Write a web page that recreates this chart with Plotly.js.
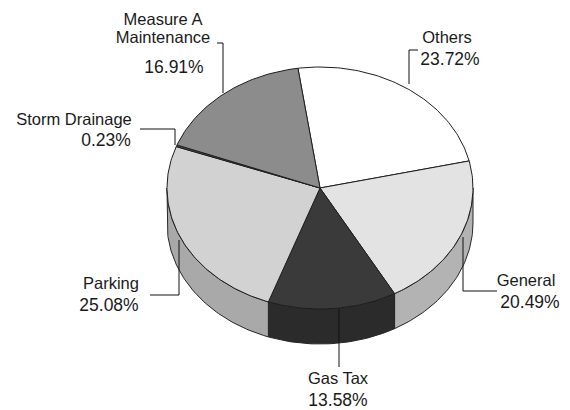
<!DOCTYPE html>
<html>
<head>
<meta charset="utf-8">
<script src="https://cdn.plot.ly/plotly-3.0.1.min.js"></script>
<style>html,body{margin:0;padding:0;background:#fff}#chart{width:570px;height:410px}</style>
</head>
<body>
<div id="chart"></div>
<script>
// Data, clockwise starting from the Others / Measure A boundary
const categories = ['Others', 'General', 'Gas Tax', 'Parking', 'Storm Drainage', 'Measure A Maintenance'];
const shares = [23.72, 20.49, 13.58, 25.08, 0.23, 16.91];
const topColors = ['#ffffff', '#e3e3e3', '#3a3a3a', '#d2d2d2', '#505050', '#8c8c8c'];
const sideColors = ['#b8b8b8', '#b3b3b3', '#2b2b2b', '#a9a9a9', '#3a3a3a', '#6a6a6a'];

// Label text lines and their anchors (axis units)
const labelLines = ['Measure A', 'Maintenance', '16.91%', 'Storm Drainage', '0.23%', 'Others', '23.72%', 'General', '20.49%', 'Gas Tax', '13.58%', 'Parking', '25.08%'];
const labelX = [163, 163, 174, 74, 106, 447, 450, 526, 530, 338, 338, 111, 109];
const labelY = [21, 39, 69, 121, 142, 39, 61, 282, 304, 380, 402, 285, 307];
const labelSize = [16.5, 16.5, 17.5, 16.5, 17.5, 16.5, 17.5, 16.5, 17.5, 16.5, 17.5, 16.5, 17.5];

// Leader lines (axis units); null separates them
const leaderX = [217, 223, 223, null, 140, 175, 175, null, 418, 409, 409, null, 497, 463, 463, null, 339, 339, null, 150, 179, 179];
const leaderY = [43, 43, 93, null, 129, 129, 145, null, 50, 50, 84, null, 291, 291, 237, null, 309, 367, null, 295, 295, 240];

// Pie geometry
const cx = 320, cy = 188, rx = 153, ry = 121, depth = 35, startDeg = -8.3;

const px = d => cx + rx * Math.sin(d * Math.PI / 180);
const py = d => cy - ry * Math.cos(d * Math.PI / 180);
const total = shares.reduce((a, b) => a + b, 0);

function arc(a, b) {
  const n = Math.max(2, Math.ceil(Math.abs(b - a)));
  const out = [];
  for (let i = 0; i <= n; i++) out.push(a + (b - a) * i / n);
  return out;
}

const traces = [];
const tops = [];
let cur = startDeg;
shares.forEach((v, i) => {
  const a = cur, b = cur + v / total * 360;
  cur = b;
  // side wall: the part of the slice on the front half of the rim
  const sa = Math.max(a, 90), sb = Math.min(b, 270);
  if (sb > sa) {
    const f = arc(sa, sb), r = f.slice().reverse();
    traces.push({
      type: 'scatter', mode: 'lines', fill: 'toself', fillcolor: sideColors[i],
      line: {color: '#262626', width: 1}, hoverinfo: 'skip', showlegend: false,
      x: f.map(px).concat(r.map(px), [px(sa)]),
      y: f.map(py).concat(r.map(d => py(d) + depth), [py(sa)])
    });
  }
  const t = arc(a, b);
  tops.push({
    type: 'scatter', mode: 'lines', fill: 'toself', fillcolor: topColors[i],
    line: {color: '#1e1e1e', width: 1}, name: categories[i], showlegend: false,
    text: categories[i] + ': ' + v.toFixed(2) + '%', hoverinfo: 'text',
    x: [cx].concat(t.map(px), [cx]),
    y: [cy].concat(t.map(py), [cy])
  });
});

traces.push(...tops);
traces.push({
  type: 'scatter', mode: 'lines', x: leaderX, y: leaderY, connectgaps: false,
  line: {color: '#111111', width: 1}, hoverinfo: 'skip', showlegend: false
});
traces.push({
  type: 'scatter', mode: 'text', x: labelX, y: labelY, text: labelLines,
  textposition: 'middle center', hoverinfo: 'skip', showlegend: false,
  textfont: {family: '"Liberation Sans", Arial, sans-serif', size: labelSize, color: '#1a1a1a'}
});

const hidden = {visible: false, fixedrange: true};
Plotly.newPlot('chart', traces, {
  width: 570, height: 410,
  margin: {l: 0, r: 0, t: 0, b: 0},
  paper_bgcolor: '#ffffff', plot_bgcolor: '#ffffff',
  showlegend: false,
  xaxis: Object.assign({range: [0, 570]}, hidden),
  yaxis: Object.assign({range: [410, 0]}, hidden)
}, {displayModeBar: false, staticPlot: true});
</script>
</body>
</html>
